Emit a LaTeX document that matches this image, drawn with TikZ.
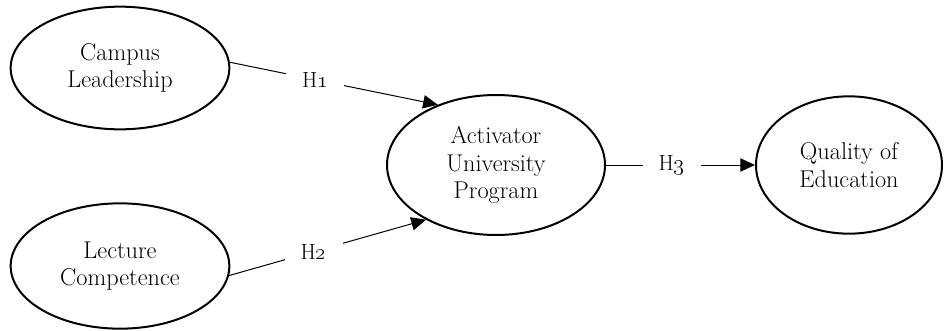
\documentclass[tikz,border=0pt]{standalone}
\usetikzlibrary{arrows.meta,shapes.geometric}
\tikzset{
    construct/.style={ellipse, draw, line width=1.5pt, inner sep=0pt, align=center, font=\fontsize{18.2}{20.8}\selectfont}, % latent variable
    hyp/.style={fill=white, inner xsep=12pt, inner ysep=2pt, font=\fontsize{16.5}{19}\selectfont}, % hypothesis label
    link/.style={line width=0.75pt, -{Triangle[length=11pt,width=10pt]}}
}
\newcommand{\hyplabel}[1]{H\oldstylenums{#1}}

\begin{document}
\begin{tikzpicture}[x=0.75pt, y=0.75pt]

            \useasboundingbox (0,0) rectangle (952,330);

            % constructs
            \node[construct, minimum width=164pt, minimum height=92pt] (camp) at (120,262) {Campus\\Leadership};
            \node[construct, minimum width=164pt, minimum height=94pt] (lect) at (120,64) {Lecture\\Competence};
            \node[construct, minimum width=163.5pt, minimum height=105pt] (act) at (496,165) {Activator\\University\\Program};
            \node[construct, minimum width=139.5pt, minimum height=103pt] (qual) at (849,165) {Quality of\\Education};

            % hypotheses
            \draw[link] (camp.3) -- node[hyp, pos=0.41] {\hyplabel{1}} (act.134);
            \draw[link] (lect.-5) -- node[hyp, pos=0.43] {\hyplabel{2}} (act.218);
            \draw[link] (act.east) -- node[hyp, pos=0.44] {\hyplabel{3}} (qual.west);
        \end{tikzpicture}
\end{document}
